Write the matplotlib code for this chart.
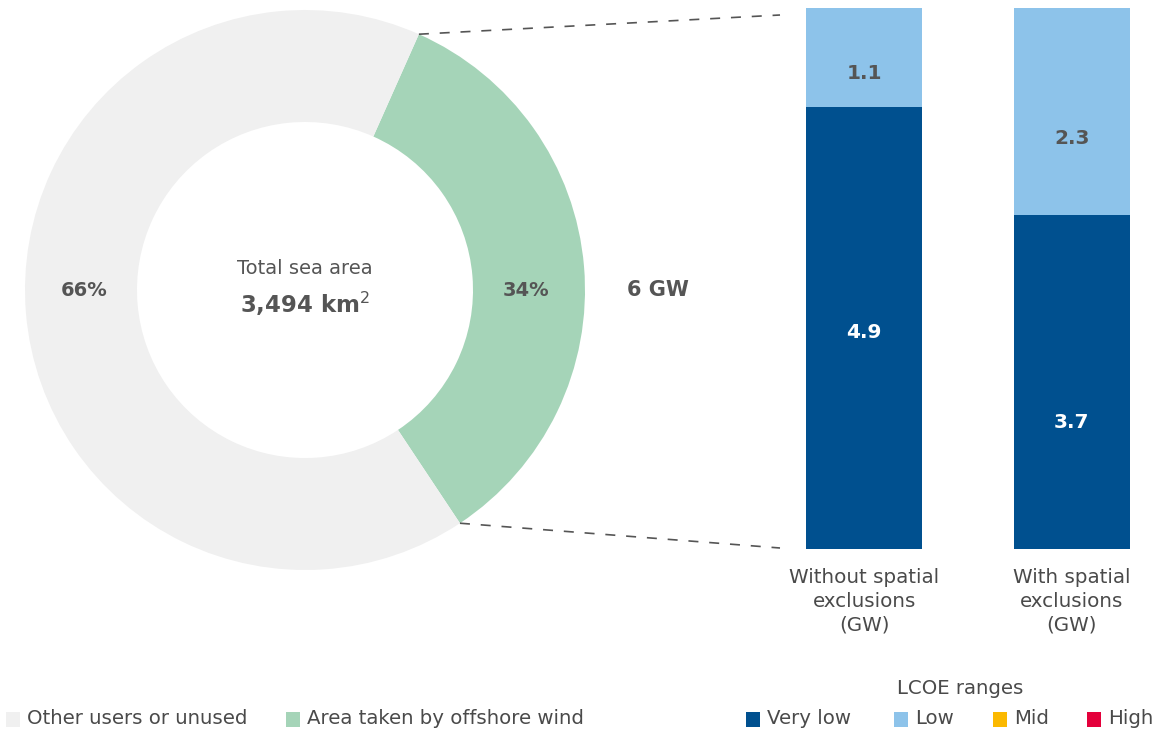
import matplotlib
matplotlib.use("Agg")
import matplotlib.pyplot as plt
from matplotlib.patches import Rectangle
from matplotlib.lines import Line2D
import numpy as np

plt.rcParams['font.family'] = ['DejaVu Sans']

# ---- data ----
area_labels = ["Area taken by offshore wind", "Other users or unused"]
area_shares = [34, 66]
area_colors = ["#a5d4b8", "#f0f0f0"]
total_area_text = "3,494 km$^2$"
total_gw_text = "6 GW"

bar_categories = ["Without spatial\nexclusions\n(GW)", "With spatial\nexclusions\n(GW)"]
very_low = [4.9, 3.7]
low = [1.1, 2.3]

lcoe_labels = ["Very low", "Low", "Mid", "High"]
lcoe_colors = ["#00508f", "#8dc3ea", "#fbb900", "#e4003b"]

TXT = "#555555"
W, H = 1159, 731
fig = plt.figure(figsize=(W / 100, H / 100), dpi=100)

def fx(px):
    return px / W

def fy(py):
    return 1 - py / H

# ---- donut ----
cx, cy, R = 305, 290, 280
ax_pie = fig.add_axes([fx(cx - R), fy(cy + R), 2 * R / W, 2 * R / H])
start = 66
wedges, _ = ax_pie.pie(area_shares, colors=area_colors, startangle=start,
                       counterclock=False, radius=1,
                       wedgeprops=dict(width=0.40, edgecolor="none"))
ax_pie.set_xlim(-1, 1)
ax_pie.set_ylim(-1, 1)
ax_pie.set_aspect("auto")
ax_pie.axis("off")

ax_pie.text(0, 0.078, "Total sea area", ha="center", va="center", fontsize=14, color=TXT)
ax_pie.text(0, -0.05, total_area_text, ha="center", va="center", fontsize=16.5,
            fontweight="bold", color=TXT)
ax_pie.text(-0.79, 0, f"{area_shares[1]}%", ha="center", va="center", fontsize=14,
            fontweight="bold", color=TXT)
ax_pie.text(0.79, 0, f"{area_shares[0]}%", ha="center", va="center", fontsize=14,
            fontweight="bold", color=TXT)
ax_pie.text(1.26, 0, total_gw_text, ha="center", va="center", fontsize=15,
            fontweight="bold", color=TXT, clip_on=False)

# ---- bars ----
x0, x1, ytop, ybot = 806, 1130, 8, 549
ax_bar = fig.add_axes([fx(x0), fy(ybot), (x1 - x0) / W, (ybot - ytop) / H])
xpos = np.arange(len(bar_categories))
bw = 0.56
ax_bar.bar(xpos, very_low, width=bw, color=lcoe_colors[0])
ax_bar.bar(xpos, low, width=bw, bottom=very_low, color=lcoe_colors[1])
ax_bar.set_xlim(-bw / 2, 1 + bw / 2)
ax_bar.set_ylim(0, very_low[0] + low[0])
ax_bar.axis("off")
vl_frac = [0.49, 0.38]   # label anchor within segment (fraction from bottom)
lo_frac = [0.34, 0.37]
for i in xpos:
    ax_bar.text(i, very_low[i] * vl_frac[i], f"{very_low[i]}", ha="center", va="center",
                color="white", fontsize=14.5, fontweight="bold")
    ax_bar.text(i, very_low[i] + low[i] * lo_frac[i], f"{low[i]}", ha="center", va="center",
                color=TXT, fontsize=14.5, fontweight="bold")
    ax_bar.text(i, -0.21, bar_categories[i], ha="center", va="top", color="#4a4a4a",
                fontsize=14.3, linespacing=1.33, clip_on=False)

# ---- connector dashed lines ----
t1 = np.deg2rad(start)
t2 = np.deg2rad(start - area_shares[0] / sum(area_shares) * 360)
for t, ty in [(t1, 15), (t2, 548)]:
    sx = cx + R * np.cos(t)
    sy = cy - R * np.sin(t)
    fig.add_artist(Line2D([fx(sx), fx(780)], [fy(sy), fy(ty)], transform=fig.transFigure,
                          color="#555555", lw=1.2, linestyle=(0, (6, 6.5))))

# ---- legends ----
def legend_item(px, label, color):
    fig.add_artist(Rectangle((fx(px), fy(727)), 14 / W, 15 / H, transform=fig.transFigure,
                             facecolor=color, edgecolor="none"))
    fig.text(fx(px + 21), fy(719), label, ha="left", va="center", fontsize=14.2, color="#4a4a4a")

legend_item(6, area_labels[1], area_colors[1])
legend_item(286, area_labels[0], area_colors[0])
for px, lab, col in zip([746, 894, 993, 1087], lcoe_labels, lcoe_colors):
    legend_item(px, lab, col)
fig.text(fx(960), fy(688), "LCOE ranges", ha="center", va="center", fontsize=14.2, color="#4a4a4a")

fig.savefig("out.png", dpi=100, facecolor="white")
